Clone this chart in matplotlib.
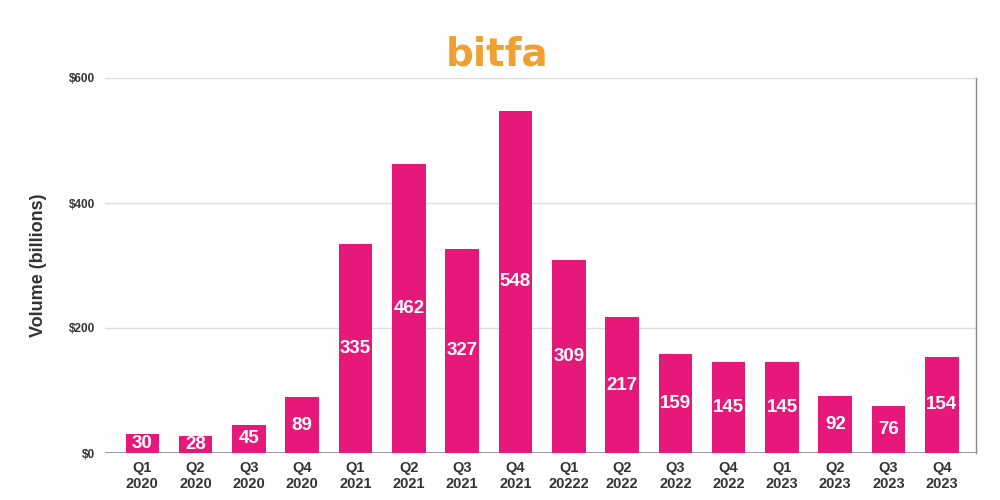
import matplotlib
matplotlib.use("Agg")
import matplotlib.pyplot as plt

plt.rcParams['font.family'] = ['Liberation Sans', 'DejaVu Sans']

quarters = ["Q1\n2020", "Q2\n2020", "Q3\n2020", "Q4\n2020",
            "Q1\n2021", "Q2\n2021", "Q3\n2021", "Q4\n2021",
            "Q1\n20222", "Q2\n2022", "Q3\n2022", "Q4\n2022",
            "Q1\n2023", "Q2\n2023", "Q3\n2023", "Q4\n2023"]
volumes = [30, 28, 45, 89, 335, 462, 327, 548, 309, 217, 159, 145, 145, 92, 76, 154]
yticks = [0, 200, 400, 600]
ytick_labels = ["$0", "$200", "$400", "$600"]

bar_color = "#E6197A"

fig = plt.figure(figsize=(10, 5), dpi=100)
ax = fig.add_axes([0.105, 0.094, 0.871, 0.75])

x = list(range(len(volumes)))
ax.bar(x, volumes, width=0.63, color=bar_color, zorder=3)
for xi, v in zip(x, volumes):
    ax.text(xi, v / 2, str(v), ha="center", va="center", color="white",
            fontsize=13.5, fontweight="bold", zorder=4)

ax.set_xlim(-0.70, 15.64)
ax.set_ylim(0, 600)
ax.set_yticks(yticks)
ax.set_yticklabels(ytick_labels, fontsize=8.5, fontweight="bold", color="#333333")
ax.set_xticks(x)
ax.set_xticklabels(quarters, fontsize=10.5, fontweight="bold", color="#333333", linespacing=1.15)
ax.tick_params(axis="y", length=0, pad=7)
ax.tick_params(axis="x", length=0, pad=6)
ax.grid(axis="y", color="#dddddd", linewidth=1, zorder=0)
ax.axhline(0, color="#888888", linewidth=1.2, zorder=2)

for s in ["top", "left", "bottom"]:
    ax.spines[s].set_visible(False)
ax.spines["right"].set_color("#888888")
ax.spines["right"].set_linewidth(1)

ax.set_ylabel("Volume (billions)", fontsize=13, fontweight="bold", color="#333333", labelpad=16)

fig.text(0.497, 0.89, "bitfa", ha="center", va="center", fontsize=28,
         fontweight="bold", color="#F0A030", family="DejaVu Sans")

fig.savefig("out.png", dpi=100, facecolor="white")
